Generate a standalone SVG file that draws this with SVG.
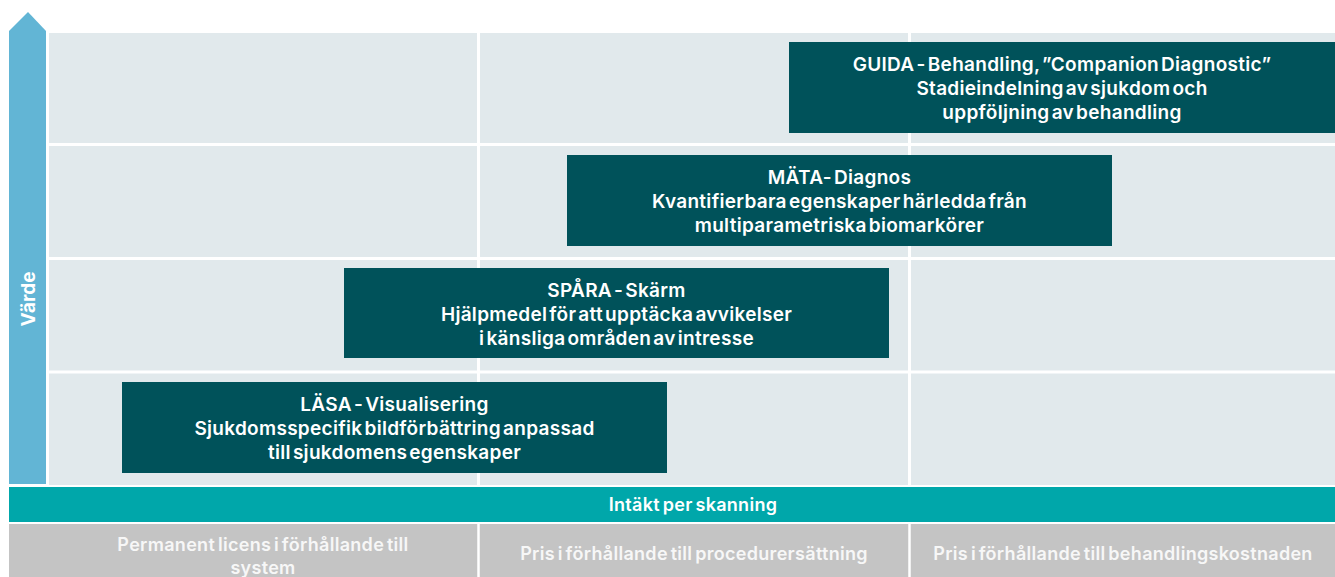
<svg xmlns="http://www.w3.org/2000/svg" width="1335" height="577" viewBox="0 0 1335 577">
<style>
.bx{fill:#00525a}
.bt{font-family:Inter,"Liberation Sans",sans-serif;font-size:19px;font-weight:600;fill:#ffffff;text-anchor:middle;letter-spacing:0.3px;word-spacing:-3px}
.ft{font-family:Inter,"Liberation Sans",sans-serif;font-size:18px;font-weight:600;fill:#f7f7f7;text-anchor:middle;letter-spacing:0.3px;word-spacing:-2px}
.gl{stroke:#ffffff;stroke-width:3}
</style>
<rect width="1335" height="577" fill="#ffffff"/>
<g id="grid">
<rect x="49" y="33" width="1286" height="452" fill="#e1e9ec"/>
<line class="gl" x1="478.5" y1="33" x2="478.5" y2="485"/>
<line class="gl" x1="909.5" y1="33" x2="909.5" y2="485"/>
<line class="gl" x1="49" y1="144.5" x2="1335" y2="144.5"/>
<line class="gl" x1="49" y1="258.5" x2="1335" y2="258.5"/>
<line class="gl" x1="49" y1="372" x2="1335" y2="372"/>
</g>
<g id="axis">
<polygon points="9,31 28,12 46,31 46,484 9,484" fill="#62b5d5"/>
<text class="ft" transform="translate(35,299) rotate(-90)" style="font-size:19px;font-weight:700;fill:#ffffff;letter-spacing:0">Värde</text>
</g>
<g id="guida">
<rect class="bx" x="789" y="42" width="546" height="91"/>
<text class="bt" x="1062" y="71">GUIDA  - Behandling, ”Companion Diagnostic”</text>
<text class="bt" x="1062" y="95">Stadieindelning av sjukdom och</text>
<text class="bt" x="1062" y="119">uppföljning av behandling</text>
</g>
<g id="mata">
<rect class="bx" x="567" y="155" width="545" height="91"/>
<text class="bt" x="839.5" y="184">MÄTA- Diagnos</text>
<text class="bt" x="839.5" y="208">Kvantifierbara egenskaper härledda från</text>
<text class="bt" x="839.5" y="232">multiparametriska biomarkörer</text>
</g>
<g id="spara">
<rect class="bx" x="344" y="268" width="545" height="90"/>
<text class="bt" x="616.5" y="297">SPÅRA - Skärm</text>
<text class="bt" x="616.5" y="321">Hjälpmedel för att upptäcka avvikelser</text>
<text class="bt" x="616.5" y="345">i känsliga områden av intresse</text>
</g>
<g id="lasa">
<rect class="bx" x="122" y="382" width="545" height="91"/>
<text class="bt" x="394.5" y="411">LÄSA - Visualisering</text>
<text class="bt" x="394.5" y="435">Sjukdomsspecifik bildförbättring anpassad</text>
<text class="bt" x="394.5" y="459">till sjukdomens egenskaper</text>
</g>
<g id="revenue">
<rect x="9" y="487" width="1326" height="35" fill="#00a7aa"/>
<text class="ft" x="693" y="511" style="fill:#ffffff">Intäkt per skanning</text>
</g>
<g id="pricing">
<rect x="9" y="524" width="1326" height="53" fill="#c4c4c4"/>
<line class="gl" x1="478.5" y1="524" x2="478.5" y2="577" style="stroke-width:2.5"/>
<line class="gl" x1="909.5" y1="524" x2="909.5" y2="577" style="stroke-width:2.5"/>
<text class="ft" x="263" y="551">Permanent licens i förhållande till</text>
<text class="ft" x="263" y="574">system</text>
<text class="ft" x="694" y="560">Pris i förhållande till procedurersättning</text>
<text class="ft" x="1123" y="560">Pris i förhållande till behandlingskostnaden</text>
</g>
<g id="connectors"></g>
</svg>
